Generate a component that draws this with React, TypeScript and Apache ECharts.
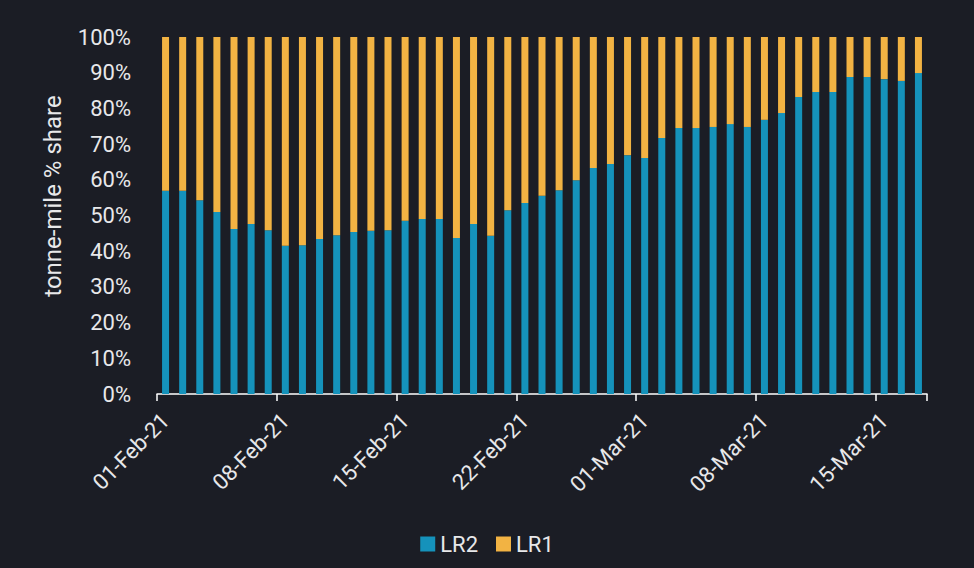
import React, { useEffect, useRef } from "react";
import * as echarts from "echarts";

const categories: string[] = [
  "01-Feb-21", "02-Feb-21", "03-Feb-21", "04-Feb-21", "05-Feb-21", "06-Feb-21", "07-Feb-21",
  "08-Feb-21", "09-Feb-21", "10-Feb-21", "11-Feb-21", "12-Feb-21", "13-Feb-21", "14-Feb-21",
  "15-Feb-21", "16-Feb-21", "17-Feb-21", "18-Feb-21", "19-Feb-21", "20-Feb-21", "21-Feb-21",
  "22-Feb-21", "23-Feb-21", "24-Feb-21", "25-Feb-21", "26-Feb-21", "27-Feb-21", "28-Feb-21",
  "01-Mar-21", "02-Mar-21", "03-Mar-21", "04-Mar-21", "05-Mar-21", "06-Mar-21", "07-Mar-21",
  "08-Mar-21", "09-Mar-21", "10-Mar-21", "11-Mar-21", "12-Mar-21", "13-Mar-21", "14-Mar-21",
  "15-Mar-21", "16-Mar-21", "17-Mar-21",
];

const lr2: number[] = [
  56.9, 56.9, 54.3, 51.0, 46.2, 47.6, 45.9,
  41.5, 41.7, 43.4, 44.5, 45.4, 45.7, 45.9,
  48.5, 49.0, 49.0, 43.7, 47.6, 44.3, 51.5,
  53.5, 55.5, 57.1, 59.9, 63.3, 64.4, 66.9,
  66.1, 71.7, 74.5, 74.5, 74.8, 75.6, 74.8,
  76.8, 78.7, 83.2, 84.6, 84.6, 88.8, 88.8,
  88.2, 87.7, 89.9,
];

const lr1: number[] = [
  43.1, 43.1, 45.7, 49.0, 53.8, 52.4, 54.1,
  58.5, 58.3, 56.6, 55.5, 54.6, 54.3, 54.1,
  51.5, 51.0, 51.0, 56.3, 52.4, 55.7, 48.5,
  46.5, 44.5, 42.9, 40.1, 36.7, 35.6, 33.1,
  33.9, 28.3, 25.5, 25.5, 25.2, 24.4, 25.2,
  23.2, 21.3, 16.8, 15.4, 15.4, 11.2, 11.2,
  11.8, 12.3, 10.1,
];

const yTicks = { min: 0, max: 100, interval: 10 };
const yName = "tonne-mile % share";

const FONT = "Roboto";
const TEXT = "#e8e8ea";

export default function App() {
  const ref = useRef<HTMLDivElement>(null);

  useEffect(() => {
    document.body.style.margin = "0";
    if (!ref.current) return;
    const chart = echarts.init(ref.current, null, { renderer: "svg" });
    chart.setOption({
      animation: false,
      backgroundColor: "#1b1d25",
      textStyle: { fontFamily: FONT },
      grid: { left: 157, right: 47, top: 37, bottom: 174, containLabel: false },
      legend: {
        bottom: 8,
        left: "center",
        itemWidth: 15,
        itemHeight: 15,
        itemGap: 18,
        icon: "rect",
        textStyle: { color: TEXT, fontSize: 22, fontFamily: FONT },
        data: ["LR2", "LR1"],
      },
      xAxis: {
        type: "category",
        data: categories,
        boundaryGap: true,
        axisLine: { show: true, lineStyle: { color: "#ffffff", width: 1.5 } },
        axisTick: { show: true, interval: 6, length: 7, lineStyle: { color: "#ffffff", width: 1.5 } },
        axisLabel: {
          interval: 6,
          rotate: 45,
          margin: 23,
          color: TEXT,
          fontSize: 22,
          fontFamily: FONT,
        },
        splitLine: { show: false },
      },
      yAxis: {
        type: "value",
        min: yTicks.min,
        max: yTicks.max,
        interval: yTicks.interval,
        axisLine: { show: false },
        axisTick: { show: false },
        splitLine: { show: false },
        axisLabel: {
          formatter: "{value}%",
          color: TEXT,
          fontSize: 22,
          margin: 26,
          fontFamily: FONT,
        },
      },
      graphic: [
        {
          type: "text",
          x: 53,
          y: 196,
          rotation: Math.PI / 2,
          style: {
            text: yName,
            fill: TEXT,
            fontSize: 24,
            fontFamily: FONT,
            textAlign: "center",
            textVerticalAlign: "middle",
          },
        },
      ],
      series: [
        {
          name: "LR2",
          type: "bar",
          stack: "share",
          data: lr2,
          barWidth: 7,
          itemStyle: { color: "#1592bb" },
        },
        {
          name: "LR1",
          type: "bar",
          stack: "share",
          data: lr1,
          barWidth: 7,
          itemStyle: { color: "#f2b343" },
        },
      ],
    });
    return () => chart.dispose();
  }, []);

  return (
    <div
      ref={ref}
      style={{ position: "fixed", left: 0, top: 0, width: 974, height: 568 }}
    />
  );
}
